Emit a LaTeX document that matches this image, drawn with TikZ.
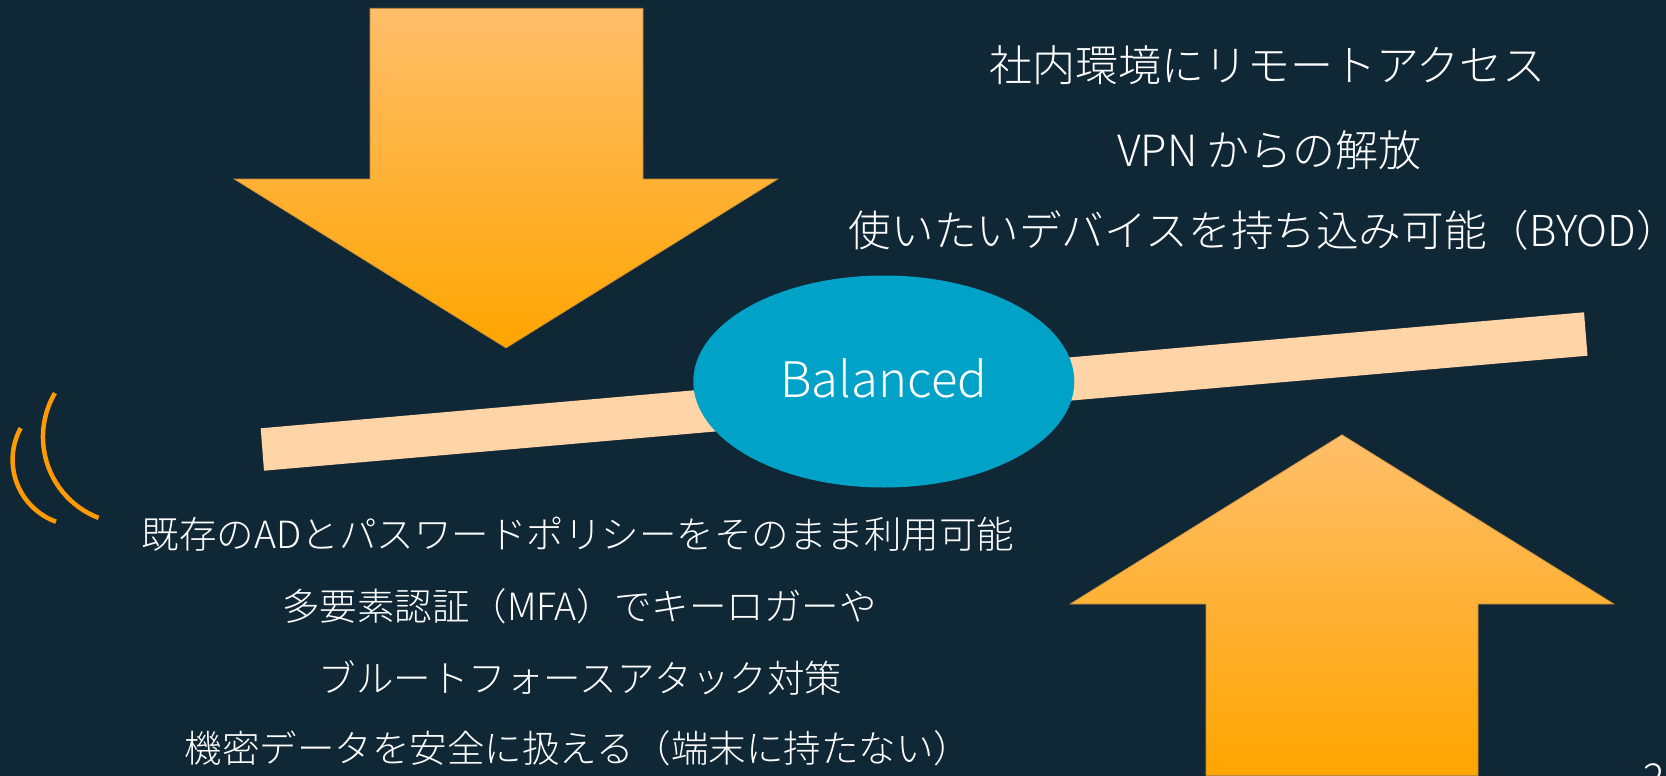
\documentclass[tikz,border=0pt]{standalone}
\usepackage{fontspec}
\IfFontExistsTF{Noto Sans CJK JP Light}{\setmainfont{Noto Sans CJK JP Light}}{\setmainfont{Noto Sans CJK JP}}
\usetikzlibrary{shapes.geometric}
\definecolor{bg}{RGB}{16,39,54}
\definecolor{ellc}{RGB}{0,162,200}
\definecolor{beamc}{RGB}{255,212,166}
\definecolor{arrlight}{RGB}{255,190,106}
\definecolor{arrdark}{RGB}{255,165,0}
\definecolor{arcc}{RGB}{255,154,0}
\definecolor{arredge}{RGB}{190,135,60}
\begin{document}
\begin{tikzpicture}[x=1pt,y=-1pt,
  bigarrow/.style={top color=arrlight,bottom color=arrdark,draw=arredge,line width=0.6pt},
  rtext/.style={text=white,font=\fontsize{43}{50}\selectfont,inner sep=0pt,text height=37.84pt,text depth=5.16pt},
  ltext/.style={text=white,font=\fontsize{37.5}{45}\selectfont,inner sep=0pt,text height=33pt,text depth=4.5pt},
  swoosh/.style={draw=arcc,line width=4.5pt}]
\useasboundingbox (0,0) rectangle (1666,776);
\clip (0,0) rectangle (1666,776);
\fill[bg] (0,0) rectangle (1666,776);
% arrows
\path[bigarrow] (370,8.3) -- (643,8.3) -- (643,179) -- (778,179) -- (506,348) -- (234,179) -- (370,179) -- cycle;
\path[bigarrow] (1342,434.7) -- (1614,604) -- (1478,604) -- (1478,775.5) -- (1206,775.5) -- (1206,604) -- (1070,604) -- cycle;
% beam
\fill[beamc] (260.7,428.3) -- (1584,312.3) -- (1587.5,355.7) -- (264,470.7) -- cycle;
% ellipse
\node[ellipse,fill=ellc,minimum width=381pt,minimum height=212pt,inner sep=0pt,text=white,
  font=\fontsize{49}{58}\selectfont,text height=35.9pt,text depth=4.4pt] (bal) at (883.8,381.5) {Balanced};
% texts
\node[rtext] (r1) at (1267.5,65.5) {社内環境にリモートアクセス};
\node[rtext] (r2) at (1269.5,150.5) {VPN からの解放};
\node[rtext,font=\fontsize{42.6}{50}\selectfont] (r3) at (1264,230) {使いたいデバイスを持ち込み可能（BYOD）};
\node[ltext] (l1) at (578,534) {既存のADとパスワードポリシーをそのまま利用可能};
\node[ltext] (l2) at (579.5,606) {多要素認証（MFA）でキーロガーや};
\node[ltext] (l3) at (580.5,678) {ブルートフォースアタック対策};
\node[ltext] (l4) at (578,748) {機密データを安全に扱える（端末に持たない）};
% swoosh arcs
\draw[swoosh] (98.6,517.9) arc[start angle=111,end angle=210.4,radius=86.7];
\draw[swoosh] (56,521.7) arc[start angle=110,end angle=208.6,radius=66];
% page number
\node[text=white,font=\fontsize{40}{48}\selectfont,anchor=base,inner sep=0pt] (pg) at (1654,792) {2};
\end{tikzpicture}
\end{document}
